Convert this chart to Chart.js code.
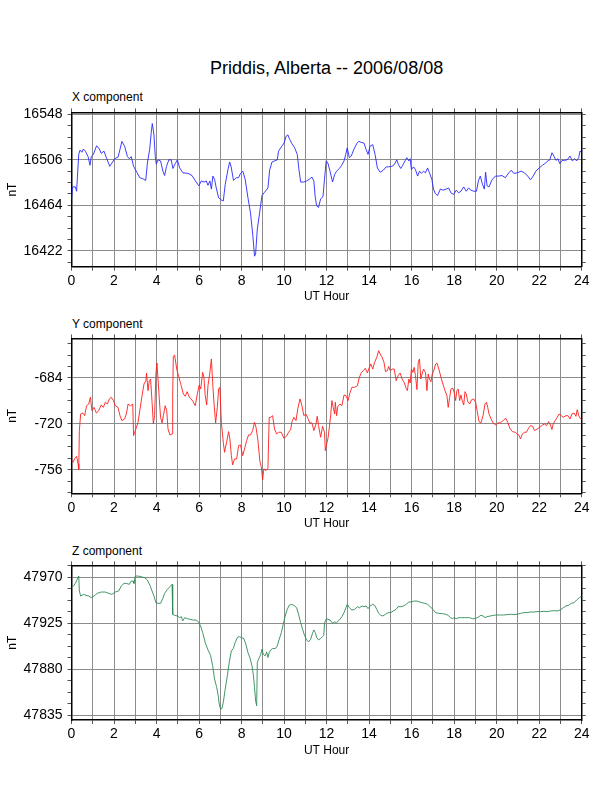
<!DOCTYPE html>
<html>
<head>
<meta charset="utf-8">
<script src="https://cdn.jsdelivr.net/npm/chart.js@4.4.1/dist/chart.umd.min.js"></script>
<style>
  html, body { margin:0; padding:0; background:#fff; }
  body { width:612px; height:792px; position:relative; overflow:hidden; font-family:"Liberation Sans", Arial, sans-serif; }
  canvas { position:absolute; left:0; }
  .txt { position:absolute; color:#000; white-space:nowrap; }
</style>
</head>
<body>
<div class="txt" id="mainTitle" style="left:326.6px; top:57px; font-size:18px; line-height:22px; transform:translateX(-50%);">Priddis, Alberta -- 2006/08/08</div>
<div class="txt" style="left:72px; top:90px; font-size:12px; line-height:14px;">X component</div>
<div class="txt" style="left:72px; top:317px; font-size:12px; line-height:14px;">Y component</div>
<div class="txt" style="left:72px; top:544px; font-size:12px; line-height:14px;">Z component</div>
<canvas id="cx"></canvas>
<canvas id="cy"></canvas>
<canvas id="cz"></canvas>
<script>
// ---------------- DATA ----------------
const xHours = [0.00,0.05,0.18,0.24,0.34,0.40,0.49,0.56,0.65,0.78,0.87,0.93,1.03,1.18,1.31,1.40,1.53,1.64,1.80,1.90,
2.03,2.19,2.28,2.37,2.50,2.63,2.72,2.81,2.92,3.05,3.21,3.36,3.49,3.57,3.68,3.75,3.80,3.88,3.94,3.99,
4.07,4.19,4.30,4.38,4.47,4.58,4.69,4.77,4.88,4.98,5.09,5.24,5.48,5.67,5.83,5.99,6.11,6.24,6.34,6.42,
6.51,6.58,6.65,6.73,6.81,6.92,7.04,7.14,7.23,7.36,7.44,7.51,7.62,7.75,7.86,7.95,8.06,8.17,8.30,8.42,
8.53,8.61,8.66,8.74,8.85,8.96,9.08,9.24,9.32,9.43,9.55,9.68,9.74,9.87,10.00,10.10,10.18,10.26,10.37,10.50,
10.62,10.70,10.78,10.93,11.06,11.18,11.31,11.40,11.46,11.53,11.62,11.72,11.83,11.90,11.98,
12.06,12.16,12.28,12.38,12.47,12.60,12.71,12.82,12.90,12.97,13.07,13.16,13.29,13.42,13.51,13.65,13.76,13.86,13.95,
14.04,14.17,14.28,14.39,14.52,14.67,14.80,14.92,15.07,15.18,15.30,15.38,15.49,15.58,15.69,15.77,15.87,15.93,15.99,
16.09,16.18,16.28,16.37,16.46,16.56,16.65,16.75,16.84,16.95,17.03,17.11,17.22,17.35,17.47,17.63,17.74,17.85,17.97,
18.10,18.21,18.32,18.45,18.57,18.68,18.79,18.92,19.05,19.14,19.23,19.33,19.42,19.48,19.55,19.64,19.78,19.94,
20.10,20.25,20.41,20.57,20.69,20.80,20.96,21.15,21.31,21.46,21.59,21.72,21.84,22.00,22.16,22.30,22.41,22.50,22.60,
22.69,22.79,22.88,22.97,23.08,23.19,23.32,23.45,23.56,23.67,23.76,23.86,23.92,24.00];
const xValues = [16469.5,16481,16481,16477,16511,16515,16513,16516,16514,16509,16501,16509,16511,16519,16516,16512,16514,16508,16500,16503,
16507,16508.5,16515.5,16523,16518.5,16509,16507,16509,16500,16495.5,16489.5,16488.5,16487,16503,16516,16531,16539.5,16529,16509,16502,
16506,16505,16495.5,16491.5,16500,16506,16506,16498,16502.5,16506,16498.5,16494,16493.5,16491.5,16486.5,16482,16486.5,16485.5,16486.5,16482.5,
16486.5,16479,16491,16488,16480,16471,16469,16468,16483,16497,16504,16499.5,16487,16489.5,16489.5,16493.5,16495.5,16488,16471,16457,
16436,16417,16419,16442,16457,16473,16476,16480,16496.5,16504,16505,16506,16514,16518,16521.5,16528,16529,16525,16521,16517,
16511,16497,16485.5,16485.5,16486.5,16488,16490,16486.5,16472.5,16463.5,16462,16470,16472,16488,16505,
16503,16495.5,16485.5,16492.5,16495.5,16498,16501,16505,16511,16517,16508,16509.5,16516,16521,16523,16522,16521.5,16515.5,16511,
16518.5,16520,16511,16498.5,16494.5,16496.5,16499.5,16499.5,16500,16501.5,16506,16501.5,16498,16501,16505,16508,16505,16507,16497,
16499.5,16497,16491,16495.5,16493.5,16495.5,16494,16498.5,16494,16488,16479,16475,16473,16479,16478,16479,16480,16475.5,16474,
16478,16475.5,16477,16481,16477,16480,16478,16477,16477,16486.5,16491,16483.5,16479,16494.5,16482,16481,16487.5,16491,
16491,16491.5,16489.5,16494,16496.5,16493.5,16494,16495.5,16494,16491,16487.5,16491,16495.5,16498.5,16501,16503,16505,16506,16512.5,
16509.5,16505.5,16507,16502.5,16505.5,16505.5,16506,16509.5,16505,16507,16505,16508,16514,16513];

const yHours = [0.00,0.07,0.15,0.24,0.31,0.34,0.37,0.43,0.53,0.62,0.71,0.81,0.89,0.96,1.06,1.17,1.28,1.40,1.50,1.59,1.69,1.78,1.87,1.97,
2.06,2.19,2.28,2.37,2.50,2.59,2.66,2.78,2.88,2.92,3.03,3.13,3.21,3.32,3.41,3.50,3.53,3.60,3.66,3.72,3.79,3.85,3.91,3.97,
4.02,4.07,4.13,4.19,4.26,4.32,4.41,4.48,4.54,4.63,4.73,4.76,4.79,4.85,4.95,5.04,5.16,5.26,5.35,5.44,5.54,5.63,5.72,5.82,5.92,
6.01,6.08,6.17,6.23,6.29,6.36,6.42,6.51,6.58,6.64,6.70,6.78,6.86,6.92,6.98,7.05,7.14,7.20,7.30,7.39,7.45,7.52,7.58,7.67,7.77,7.86,7.95,
8.05,8.14,8.24,8.33,8.42,8.52,8.61,8.68,8.77,8.86,8.93,8.99,9.05,9.15,9.24,9.30,9.37,9.46,9.55,9.65,9.74,9.87,9.99,
10.12,10.21,10.31,10.37,10.46,10.56,10.65,10.75,10.84,10.93,11.03,11.12,11.21,11.31,11.40,11.50,11.56,11.62,11.72,11.81,11.90,
11.94,12.00,12.06,12.13,12.19,12.25,12.31,12.38,12.41,12.47,12.53,12.63,12.72,12.82,12.91,13.01,13.10,13.19,13.32,13.45,13.54,13.64,13.73,13.82,13.92,13.98,
14.08,14.17,14.26,14.36,14.45,14.52,14.61,14.70,14.77,14.86,14.92,14.99,15.08,15.18,15.27,15.36,15.46,15.55,15.65,15.74,15.80,15.87,15.93,15.99,
16.06,16.12,16.18,16.25,16.31,16.37,16.43,16.50,16.56,16.65,16.72,16.78,16.84,16.91,16.97,17.03,17.13,17.19,17.28,17.38,17.47,17.57,17.66,17.72,17.79,17.85,17.94,
18.00,18.07,18.13,18.19,18.26,18.32,18.38,18.45,18.51,18.57,18.64,18.73,18.82,18.92,19.01,19.08,19.17,19.26,19.36,19.45,19.52,19.58,19.64,19.74,19.83,19.96,
20.05,20.17,20.30,20.43,20.52,20.62,20.74,20.87,20.96,21.06,21.12,21.21,21.31,21.40,21.50,21.59,21.69,21.78,21.91,
22.03,22.16,22.25,22.35,22.44,22.53,22.60,22.66,22.75,22.85,22.94,23.04,23.13,23.26,23.35,23.45,23.54,23.64,23.73,23.79,23.86,23.95,24.00];
const yValues = [-748.7,-750,-747,-745.3,-751.3,-755.7,-725.2,-712.2,-711.4,-713.5,-705.7,-704.4,-699.1,-709.6,-707,-711.4,-709.6,-705.1,-707,-703,-704.4,-700.4,-699.1,-701.7,
-705.7,-707,-713.5,-717.4,-716.1,-711.4,-704.4,-705.7,-704.4,-729.1,-723.9,-718.7,-709.6,-697.8,-688.7,-686.1,-680.1,-693.9,-686.1,-684.8,-703,-720,-713.5,-680.9,
-672.3,-684.8,-700.4,-714.8,-719.2,-713.5,-705.7,-709.6,-723.9,-728.6,-727.8,-697.8,-667,-666,-677,-682.7,-690,-696.5,-698.3,-694.7,-699.1,-700.4,-702.5,-705.7,-696.5,
-689.5,-692.6,-679.6,-683.5,-697.8,-705.1,-690,-679.6,-669.1,-687.4,-703,-719.2,-707,-692.6,-691.3,-718.7,-734.4,-742.2,-733.8,-726,-731.7,-744.8,-752.1,-747.4,-747.4,-737,-736.4,
-744.8,-739.6,-733,-728.6,-728.6,-725.2,-718.7,-722.6,-733,-749,-753.9,-763.6,-755.2,-756.5,-754.7,-714.8,-714.8,-713.5,-723.9,-727.8,-726.5,-726.5,-731.3,
-729.4,-726.5,-724.4,-718.2,-714.8,-717.4,-707.7,-700.4,-705.7,-713.5,-712.2,-715.6,-719.2,-719.2,-725.2,-720,-714,-721.3,-730.4,-721.8,-726.5,
-740.9,-735.7,-731.7,-722.6,-713.5,-701.7,-707,-712.2,-703,-713.5,-706.2,-704.4,-705.7,-697.3,-697.8,-701.7,-695.7,-691.3,-691.3,-690,-683.5,-679.6,-678.3,-676.4,-680.1,-677,
-673,-677,-671.7,-667.8,-662.6,-665.2,-667.8,-671.7,-679,-678.3,-674.9,-678.3,-677,-677,-686.1,-682.2,-680.1,-684.8,-687.4,-692.1,-693.9,-684.8,-687.9,-677,
-679.6,-675.7,-682.2,-693.1,-671.7,-669.1,-684.8,-680.1,-677,-679.6,-693.9,-680.9,-684.8,-686.9,-680.9,-679,-673,-672.3,-677,-683.5,-688.7,-693.9,-697.8,-707,-699.1,-692.6,-692.1,
-695.2,-701.7,-693.9,-692.6,-701.7,-697.3,-701.7,-705.1,-694.7,-696.5,-702.5,-704.4,-701,-700.4,-703,-709.6,-718.2,-719.2,-713.5,-704.4,-703,-707,-712.2,-716.1,-719.2,-720.8,
-719.2,-719.2,-717.4,-715.6,-718.7,-723.4,-726,-726.5,-727.8,-729.1,-731.7,-727.8,-726.5,-726.5,-723.4,-721.3,-721.8,-725.2,-723.9,
-722.6,-720.8,-720,-721.3,-718.2,-720.8,-724.4,-720,-717.4,-714.8,-712.2,-713.5,-714.8,-713.5,-713.5,-716.1,-712.2,-711.4,-714,-708.8,-713.5,-716.1,-716.6];

const zHours = [0.00,0.09,0.18,0.27,0.34,0.37,0.43,0.56,0.68,0.81,0.93,1.06,1.21,1.40,1.59,1.75,1.90,2.06,2.22,2.34,2.47,2.59,2.72,2.81,2.91,2.94,
3.00,3.13,3.28,3.44,3.57,3.69,3.79,3.88,3.97,4.07,4.19,4.29,4.38,4.51,4.63,4.73,4.76,4.85,4.98,5.09,5.17,5.23,5.33,5.45,5.57,5.70,5.86,5.98,
6.07,6.17,6.29,6.42,6.54,6.64,6.73,6.83,6.89,6.95,7.01,7.08,7.14,7.23,7.33,7.42,7.52,7.61,7.70,7.80,7.89,7.99,
8.11,8.20,8.30,8.39,8.49,8.55,8.61,8.66,8.71,8.74,8.80,8.89,8.96,9.02,9.11,9.18,9.24,9.30,9.37,9.46,9.59,9.68,9.77,9.87,9.96,
10.05,10.15,10.24,10.34,10.46,10.59,10.68,10.78,10.87,10.96,11.06,11.15,11.25,11.34,11.40,11.47,11.53,11.62,11.72,11.81,11.87,11.90,11.99,
12.16,12.28,12.38,12.47,12.60,12.72,12.82,12.91,12.97,13.07,13.19,13.32,13.45,13.54,13.67,13.76,13.86,13.95,14.04,14.17,14.26,14.36,14.45,14.55,14.64,14.77,14.89,
15.02,15.14,15.27,15.36,15.49,15.62,15.74,15.87,15.99,16.12,16.25,16.37,16.50,16.62,16.75,16.87,17.00,17.13,17.28,17.44,17.60,17.72,17.82,17.91,
18.00,18.10,18.23,18.35,18.48,18.60,18.73,18.86,18.98,19.08,19.17,19.26,19.36,19.45,19.55,19.70,19.86,20.02,20.18,20.33,20.49,20.65,20.80,20.96,
21.12,21.28,21.43,21.59,21.75,21.90,22.06,22.22,22.38,22.53,22.69,22.85,23.00,23.13,23.26,23.38,23.51,23.64,23.76,23.89,24.00];
const zValues = [47959.6,47961.2,47963.8,47967.7,47971,47956.4,47951.5,47953.1,47952.2,47951.5,47949.9,47951.5,47954.1,47955.4,47955.4,47954.1,47953.1,47955.4,47956.4,47961.2,47963.8,47963.8,47962.9,47966.1,47966.1,47963.8,
47971,47971,47970.3,47969.4,47967.1,47961.9,47956.4,47951.5,47945,47944.4,47944.4,47948.9,47954.1,47958,47960.6,47962.9,47933.7,47932.7,47932,47930.4,47931.4,47927.2,47930.4,47929.4,47928.8,47928.1,47928.1,47926.2,
47922.3,47915.8,47906.1,47898.9,47893.7,47883.4,47870.4,47862.3,47855.8,47846.1,47841.2,47841.8,47847.7,47860.6,47873.6,47886.6,47898,47900.2,47906.1,47911,47911.9,47911,
47910,47904.5,47896.3,47891.5,47883.4,47875.2,47862.3,47849.3,47844.4,47886.6,47889.9,47893.7,47899.6,47894.7,47893.1,47897,47891.5,47896.3,47898.9,47900.2,47900.2,47902.8,47909.3,47915.8,47923.9,
47932,47938.5,47942.4,47943.4,47942.4,47940.1,47933.7,47925.5,47919.1,47913.2,47908.7,47906.7,47909.3,47915.2,47918.4,47915.8,47911,47908.7,47910,47911.9,47913.2,47924.9,47929.4,
47928.1,47924.9,47926.2,47925.5,47928.1,47931.4,47935.3,47940.1,47943.4,47940.1,47937.9,47938.5,47941.1,47940.1,47941.8,47941.1,47941.8,47939.2,47941.8,47943.4,47942.4,47938.5,47934.6,47932.7,47932,47933.7,47935.3,
47935.3,47936.9,47938.5,47941.1,47941.1,47941.8,47943.4,47945.7,47945.7,47946.6,47946.6,47945.7,47945,47944.4,47943.4,47941.1,47938.5,47935.3,47934.6,47934.3,47933.7,47932.7,47930.4,47929.4,
47930.4,47929.4,47930.4,47930.4,47930.4,47930.4,47930.4,47929.4,47929.4,47930.4,47931.4,47932.7,47932,47930.4,47931.4,47932,47932.7,47933,47933,47933,47933.3,47933.7,47933.3,47933.7,
47934.6,47935.3,47935.3,47935.9,47935.9,47936.3,47936.3,47936.6,47936.3,47936.9,47937.2,47936.9,47937.9,47940.1,47941.8,47942.4,47944.4,47945,47947.6,47949.9,47951.5];

const hourTicks = [0, 24];          // x range (UT hours)
const xRange = [16407.3, 16549.8];  // nT
const yRange = [-774.3, -653.0];
const zRange = [47830.5, 47981.4];
const xMajor = 42, yMajor = 36, zMajor = 45;

// ---------------- DRAWING ----------------
const FONT = "'Liberation Sans', Arial, sans-serif";
const LEFT = 71.5, RIGHT = 581.7;

function makeChart(canvasId, top, bottom, hours, values, range, majorStep, color) {
  const minorStep = majorStep / 4;
  const cTop = Math.floor(top - 12);
  const cH = Math.round(bottom - cTop + 37.7);
  const cv = document.getElementById(canvasId);
  cv.width = 612; cv.height = cH;
  cv.style.width = '612px'; cv.style.height = cH + 'px';
  cv.style.top = cTop + 'px';
  const isMajor = v => Math.abs(v / majorStep - Math.round(v / majorStep)) < 1e-6;
  const gridGray = '#8c8c8c';
  const tickCol = '#555';
  new Chart(cv, {
    type: 'line',
    data: {
      datasets: [{
        data: hours.map((h, i) => ({ x: h, y: values[i] })),
        borderColor: color, borderWidth: 0.9, pointRadius: 0, tension: 0, fill: false
      }]
    },
    options: {
      responsive: false, animation: false, devicePixelRatio: 1,
      layout: { padding: 0 },
      plugins: { legend: { display: false }, tooltip: { enabled: false }, title: { display: false } },
      scales: {
        x: {
          type: 'linear', position: 'bottom', min: hourTicks[0], max: hourTicks[1],
          ticks: { stepSize: 1, autoSkip: false, maxRotation: 0, color: '#000',
                   font: { family: FONT, size: 14 }, padding: 2,
                   callback: v => (Math.round(v) % 2 === 0 ? String(Math.round(v)) : '') },
          grid: { color: gridGray, lineWidth: 1, tickLength: 4, tickColor: tickCol },
          border: { color: '#000', width: 1.5 },
          title: { display: true, text: 'UT Hour', color: '#000', font: { family: FONT, size: 12 }, padding: { top: 0, bottom: 0 } },
          afterFit: s => { s.height = cH - (bottom - cTop); }
        },
        x2: {
          type: 'linear', position: 'top', min: hourTicks[0], max: hourTicks[1],
          ticks: { stepSize: 1, autoSkip: false, maxRotation: 0, callback: () => '' },
          grid: { drawOnChartArea: false, tickLength: 4, color: tickCol },
          border: { color: '#000', width: 1.5 },
          afterFit: s => { s.height = top - cTop; }
        },
        y: {
          type: 'linear', position: 'left', min: range[0], max: range[1],
          ticks: { stepSize: minorStep, includeBounds: false, autoSkip: false, color: '#000', font: { family: FONT, size: 14 }, padding: 5,
                   callback: v => (isMajor(v) ? String(Math.round(v)) : '') },
          grid: { color: c => (c.tick && isMajor(c.tick.value) ? gridGray : 'rgba(0,0,0,0)'), lineWidth: 1, tickLength: 4, tickColor: tickCol },
          border: { color: '#000', width: 1.5 },
          title: { display: true, text: 'nT', color: '#000', font: { family: FONT, size: 12 }, padding: { top: 5.5, bottom: 0 } },
          afterFit: s => { s.width = LEFT; }
        },
        y2: {
          type: 'linear', position: 'right', min: range[0], max: range[1],
          ticks: { stepSize: minorStep, includeBounds: false, autoSkip: false, callback: () => '' },
          grid: { drawOnChartArea: false, tickLength: 4, color: tickCol },
          border: { color: '#000', width: 1.5 },
          afterFit: s => { s.width = 612 - RIGHT; }
        }
      }
    }
  });
}

makeChart('cx', 111.7, 266.7, xHours, xValues, xRange, xMajor, 'rgb(40,40,255)');
makeChart('cy', 337.7, 493.3, yHours, yValues, yRange, yMajor, 'rgb(255,30,30)');
makeChart('cz', 564.3, 720.0, zHours, zValues, zRange, zMajor, 'rgb(46,139,87)');
</script>
</body>
</html>
